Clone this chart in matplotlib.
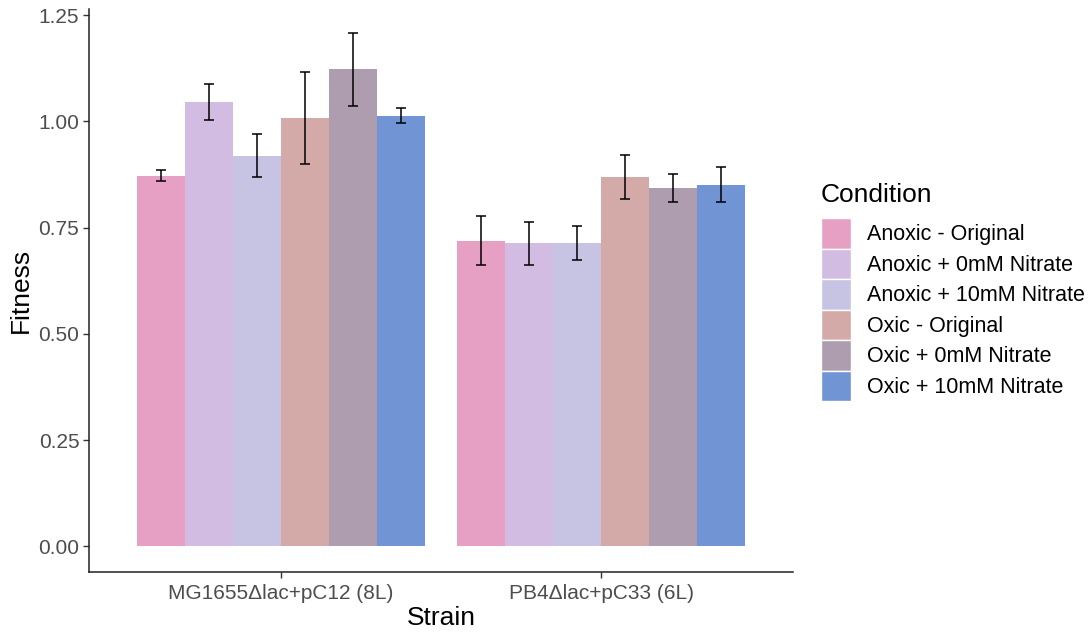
import matplotlib.pyplot as plt
import numpy as np
from matplotlib.patches import Patch

plt.rcParams['font.family'] = ['Liberation Sans', 'DejaVu Sans']

# data
strains = ['MG1655\u0394lac+pC12 (8L)', 'PB4\u0394lac+pC33 (6L)']
conditions = ['Anoxic - Original', 'Anoxic + 0mM Nitrate', 'Anoxic + 10mM Nitrate',
              'Oxic - Original', 'Oxic + 0mM Nitrate', 'Oxic + 10mM Nitrate']
fitness = [
    [0.872, 1.045, 0.919, 1.007, 1.122, 1.013],
    [0.719, 0.713, 0.713, 0.869, 0.844, 0.851],
]
errors = [
    [0.013, 0.043, 0.050, 0.108, 0.085, 0.018],
    [0.058, 0.050, 0.040, 0.052, 0.033, 0.041],
]
colors = ['#E6A0C4', '#D2BCE2', '#C7C4E3', '#D4AAA9', '#AD9DAE', '#7194D4']

fig = plt.figure(figsize=(10.92, 6.34), dpi=100)
ax = fig.add_axes([0.0815, 0.0978, 0.6447, 0.8886])

n = len(conditions)
bw = 0.9 / n
x = np.arange(1, len(strains) + 1)
fit = np.array(fitness)
err = np.array(errors)
for j in range(n):
    pos = x - 0.45 + bw * (j + 0.5)
    ax.bar(pos, fit[:, j], width=bw, color=colors[j], edgecolor='none', zorder=2)
    ax.errorbar(pos, fit[:, j], yerr=err[:, j], fmt='none', ecolor='black',
                elinewidth=1.1, capsize=3.6, capthick=1.1, zorder=3)

ax.set_xlim(0.4, 2.6)
ax.set_ylim(-0.06, 1.265)
ax.set_xticks(x)
ax.set_xticklabels(strains)
ax.set_yticks([0, 0.25, 0.5, 0.75, 1.0, 1.25])
ax.set_yticklabels(['0.00', '0.25', '0.50', '0.75', '1.00', '1.25'])
ax.tick_params(axis='both', labelsize=15, labelcolor='#4D4D4D', color='#333333',
               length=4, width=1.0)
ax.tick_params(axis='x', pad=5)
ax.tick_params(axis='y', pad=3)
for s in ['top', 'right']:
    ax.spines[s].set_visible(False)
for s in ['left', 'bottom']:
    ax.spines[s].set_color('#222222')
    ax.spines[s].set_linewidth(1.1)

ax.set_xlabel('Strain', fontsize=19, labelpad=2)
ax.set_ylabel('Fitness', fontsize=19, labelpad=4)

# legend keys touch each other, separated by thin white lines
handles = [Patch(facecolor=c, edgecolor='white', linewidth=1.0) for c in colors]
leg = fig.legend(handles, conditions, loc='upper left', bbox_to_anchor=(0.742, 0.728),
                 frameon=False, fontsize=15.5, title='Condition', title_fontsize=19,
                 handlelength=1.4, handleheight=1.8, labelspacing=0.0,
                 handletextpad=0.75, borderpad=0)
leg._legend_box.align = 'left'
leg._legend_box.sep = 8

fig.savefig('out.png', dpi=100)
